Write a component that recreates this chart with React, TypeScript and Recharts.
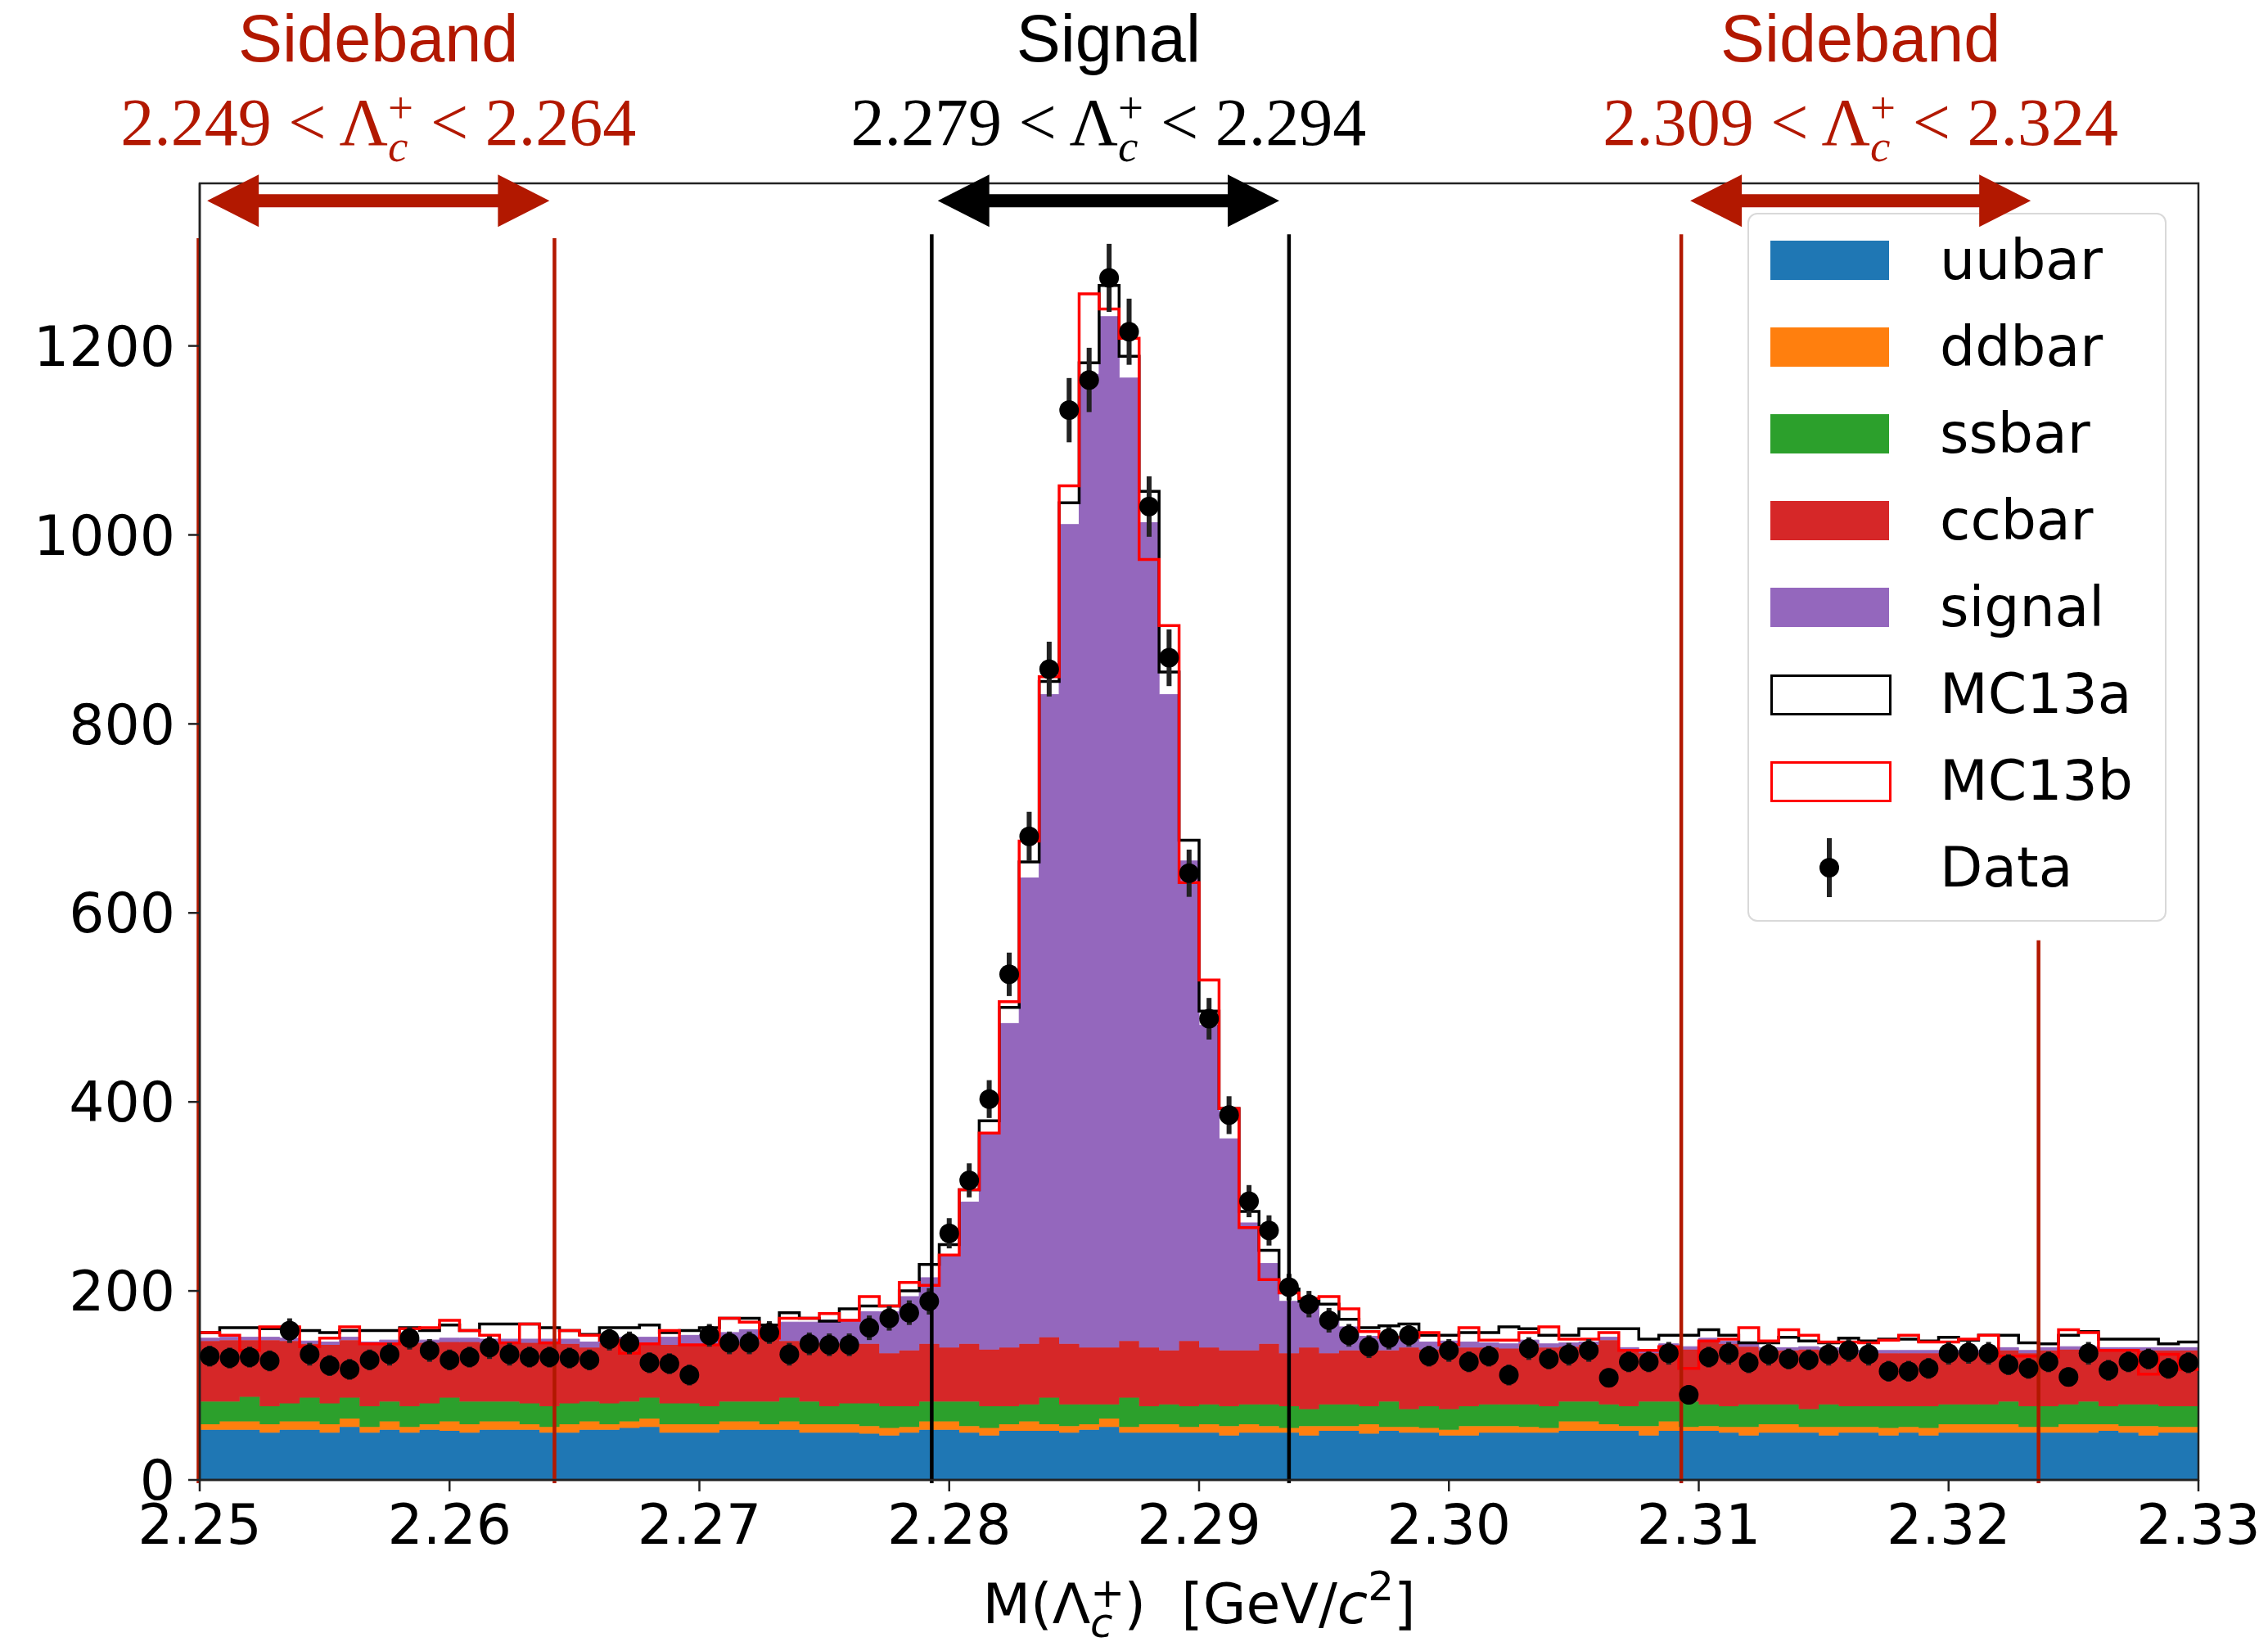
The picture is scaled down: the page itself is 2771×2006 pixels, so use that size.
import React from 'react'
import {
  ComposedChart,
  Area,
  Line,
  Scatter,
  ErrorBar,
  XAxis,
  YAxis,
  ReferenceLine,
  ReferenceArea,
} from 'recharts'

// binning of the M(Lambda_c+) histogram
const BIN_LO = 2.25
const BIN_HI = 2.33
const BIN_W = 0.0008

// stacked MC components, events per bin (100 bins)
const uubar = [
  53, 53, 53, 50, 53, 53, 50, 56, 50, 53, 50, 53, 52, 50, 53, 53, 53, 50, 50, 53,
  53, 55, 56, 50, 50, 50, 53, 53, 53, 53, 50, 50, 50, 49, 47, 50, 53, 53, 50, 47,
  52, 52, 52, 50, 53, 56, 50, 50, 50, 50, 50, 47, 50, 50, 50, 47, 52, 52, 49, 52,
  50, 50, 47, 47, 50, 50, 50, 50, 52, 52, 52, 52, 47, 52, 52, 52, 50, 47, 50, 50,
  50, 47, 50, 50, 47, 50, 47, 50, 50, 50, 50, 50, 50, 50, 50, 52, 50, 47, 50, 50,
]
const ddbar = [
  6, 9, 9, 9, 9, 9, 9, 9, 6, 9, 6, 6, 10, 9, 9, 9, 6, 6, 9, 9,
  6, 7, 9, 9, 9, 9, 9, 9, 6, 9, 9, 9, 9, 8, 8, 6, 9, 9, 7, 8,
  7, 10, 7, 7, 6, 9, 6, 9, 9, 6, 9, 10, 9, 7, 5, 10, 5, 5, 10, 4,
  6, 5, 6, 10, 7, 7, 6, 5, 10, 10, 7, 5, 10, 10, 4, 5, 6, 9, 9, 9,
  6, 9, 6, 6, 8, 6, 8, 9, 9, 9, 9, 6, 6, 9, 9, 7, 7, 10, 6, 6,
]
const ssbar = [
  24, 21, 26, 19, 19, 25, 22, 22, 22, 21, 22, 22, 25, 24, 21, 21, 22, 22, 22, 21,
  22, 21, 22, 22, 22, 19, 21, 21, 24, 25, 24, 19, 22, 24, 23, 22, 21, 21, 26, 23,
  19, 18, 28, 23, 21, 15, 31, 19, 21, 22, 21, 21, 21, 23, 23, 18, 23, 23, 19, 27,
  19, 23, 22, 21, 23, 23, 24, 23, 21, 21, 21, 21, 26, 21, 27, 23, 22, 24, 21, 21,
  19, 24, 22, 22, 23, 22, 23, 21, 21, 21, 24, 22, 22, 21, 24, 19, 23, 23, 22, 22,
]
const ccbar = [
  64, 65, 60, 70, 66, 57, 62, 61, 65, 62, 67, 64, 59, 63, 62, 62, 64, 66, 63, 57,
  64, 62, 57, 62, 63, 66, 61, 62, 69, 60, 62, 67, 63, 63, 56, 59, 61, 57, 61, 60,
  62, 64, 64, 64, 60, 60, 60, 62, 57, 69, 60, 59, 57, 64, 56, 65, 54, 57, 59, 54,
  65, 60, 65, 62, 60, 59, 64, 62, 58, 60, 68, 59, 51, 58, 55, 67, 66, 61, 57, 57,
  63, 57, 56, 56, 56, 56, 56, 54, 54, 54, 54, 56, 59, 58, 55, 59, 57, 57, 59, 59,
]
const signal = [
  3, 3, 3, 3, 3, 3, 3, 3, 3, 3, 3, 3, 4, 4, 4, 4, 4, 5, 5, 6,
  6, 6, 7, 8, 9, 10, 12, 14, 12, 20, 22, 24, 26, 34, 44, 57, 70, 98, 150, 229,
  343, 493, 680, 867, 1030, 1091, 1019, 873, 694, 508, 341, 224, 135, 85, 55, 45, 36, 25, 15, 12,
  10, 8, 7, 6, 5, 5, 4, 4, 4, 3, 3, 3, 3, 3, 3, 3, 3, 3, 3, 3,
  3, 3, 3, 3, 3, 3, 3, 3, 3, 3, 3, 3, 3, 3, 3, 3, 3, 3, 3, 3,
]

// MC totals drawn as step outlines
const mc13a = [
  156, 161, 161, 160, 160, 158, 156, 158, 158, 158, 161, 158, 164, 158, 165, 165, 165, 161, 158, 154,
  161, 161, 164, 156, 158, 161, 171, 171, 164, 177, 171, 168, 181, 184, 184, 200, 228, 249, 307, 380,
  500, 654, 845, 1034, 1182, 1264, 1189, 1046, 855, 677, 496, 393, 284, 243, 202, 189, 186, 170, 161, 163,
  165, 153, 153, 156, 156, 162, 160, 153, 153, 160, 160, 160, 149, 153, 153, 159, 153, 145, 145, 151,
  147, 145, 150, 147, 149, 149, 147, 151, 148, 153, 153, 145, 144, 153, 157, 149, 149, 149, 144, 146,
]
const mc13b = [
  156, 153, 137, 162, 162, 141, 150, 162, 144, 144, 160, 161, 169, 158, 153, 145, 165, 145, 158, 153,
  148, 134, 144, 158, 143, 143, 171, 167, 150, 171, 171, 176, 169, 194, 184, 209, 206, 238, 307, 367,
  506, 676, 850, 1052, 1255, 1239, 1208, 974, 904, 632, 529, 393, 267, 212, 198, 192, 194, 181, 157, 151,
  151, 156, 143, 161, 148, 148, 156, 162, 149, 149, 156, 137, 137, 141, 118, 147, 149, 161, 147, 159,
  153, 146, 146, 145, 148, 153, 146, 146, 149, 153, 131, 131, 130, 159, 156, 137, 137, 112, 133, 117,
]

// data points and their error bars
const dataCounts = [
  131, 129, 130, 126, 158, 133, 121, 117, 127, 133, 150, 137, 127, 130, 140, 133, 130, 130, 129, 127,
  149, 145, 124, 123, 111, 153, 145, 145, 156, 133, 144, 143, 143, 161, 171, 177, 189, 261, 317, 403,
  535, 681, 858, 1132, 1164, 1272, 1215, 1030, 870, 642, 488, 386, 295, 264, 204, 186, 169, 153, 141, 150,
  153, 131, 137, 125, 131, 111, 139, 128, 133, 137, 108, 125, 125, 134, 90, 130, 134, 124, 133, 128,
  127, 133, 137, 133, 115, 115, 118, 134, 135, 134, 122, 118, 125, 109, 134, 116, 125, 128, 118, 124,
]
const dataErr = [
  11, 11, 11, 11, 13, 12, 11, 11, 11, 12, 12, 12, 11, 11, 12, 12, 11, 11, 11, 11,
  12, 12, 11, 11, 11, 12, 12, 12, 12, 12, 12, 12, 12, 13, 13, 13, 14, 16, 18, 20,
  23, 26, 29, 34, 34, 36, 35, 32, 30, 25, 22, 20, 17, 16, 14, 14, 13, 12, 12, 12,
  12, 11, 12, 11, 11, 11, 12, 11, 12, 12, 10, 11, 11, 12, 10, 11, 12, 11, 12, 11,
  11, 12, 12, 12, 11, 11, 11, 12, 12, 12, 11, 11, 11, 10, 12, 11, 11, 11, 11, 11,
]

const xTicks = [2.25, 2.26, 2.27, 2.28, 2.29, 2.3, 2.31, 2.32, 2.33]
const yTicks = [0, 200, 400, 600, 800, 1000, 1200]
const Y_MAX = 1372

const stackKeys = ['uubar', 'ddbar', 'ssbar', 'ccbar', 'signal']
const stackColors = ['#1f77b4', '#ff7f0e', '#2ca02c', '#d62728', '#9467bd']
const stackValues = [uubar, ddbar, ssbar, ccbar, signal]

// mass windows (annotation)
const DARK_RED = '#b21800'
const bandTitles = ['Sideband', 'Signal', 'Sideband']
const bandLimits = [['2.249', '2.264'], ['2.279', '2.294'], ['2.309', '2.324']]
const bandColors = [DARK_RED, '#000', DARK_RED]
const bandLines = [[2.24995, 2.2642], [2.2793, 2.2936], [2.3093, 2.3236]]
const bandLineTops = [[1314, 1314], [1318, 1318], [1318, 571]]
const bandArrows = [[2.2503, 2.264], [2.27954, 2.29321], [2.30966, 2.32329]]
const ARROW_Y = 1353.6

const legendNames = ['uubar', 'ddbar', 'ssbar', 'ccbar', 'signal', 'MC13a', 'MC13b', 'Data']

const histRows = Array.from({ length: uubar.length + 1 }, (_, i) => {
  const k = Math.min(i, uubar.length - 1)
  const row: Record<string, number> = {
    x: i === uubar.length ? BIN_HI : BIN_LO + i * BIN_W,
    mc13a: mc13a[k],
    mc13b: mc13b[k],
  }
  stackKeys.forEach((key, j) => {
    row[key] = stackValues[j][k]
  })
  return row
})

const dataRows = dataCounts.map((v, i) => ({
  x: BIN_LO + (i + 0.5) * BIN_W,
  y: v,
  err: dataErr[i],
}))

const tickFont = { fontSize: 68, fill: '#000', fontFamily: "'DejaVu Sans', sans-serif" }

function DataDot(props: any) {
  const { cx, cy } = props
  if (cx == null || cy == null) return null
  return <circle cx={cx} cy={cy} r={12} fill="#000" />
}

function BandArrow(props: any) {
  const { x1, y1, x2, band } = props
  const color = bandColors[band]
  const head = 63
  const hh = 32
  const bh = 8
  const y = y1
  const pts = [
    [x1, y], [x1 + head, y - hh], [x1 + head, y - bh], [x2 - head, y - bh], [x2 - head, y - hh],
    [x2, y], [x2 - head, y + hh], [x2 - head, y + bh], [x1 + head, y + bh], [x1 + head, y + hh],
  ]
    .map((p) => p.join(','))
    .join(' ')
  const cx = (x1 + x2) / 2
  return (
    <g>
      <polygon points={pts} fill={color} />
      <text
        x={cx}
        y={y - 170}
        textAnchor="middle"
        fontFamily="'Liberation Sans', Arial, sans-serif"
        fontSize={81}
        fill={color}
      >
        {bandTitles[band]}
      </text>
      <text
        x={cx}
        y={y - 68}
        textAnchor="middle"
        fontFamily="'Liberation Serif', 'Times New Roman', serif"
        fontSize={82}
        fill={color}
        style={{ whiteSpace: 'pre' }}
      >
        {`${bandLimits[band][0]} < Λ`}
        <tspan dy={-27} fontSize={55}>+</tspan>
        <tspan dx={-31} dy={47} fontSize={55} fontStyle="italic">c</tspan>
        <tspan dx={7} dy={-20}>{` < ${bandLimits[band][1]}`}</tspan>
      </text>
    </g>
  )
}

function MassLabel(props: any) {
  const { viewBox } = props
  if (!viewBox) return null
  const cx = viewBox.x + viewBox.width / 2
  const y = viewBox.y + 175
  return (
    <text
      x={cx}
      y={y}
      textAnchor="middle"
      fontFamily="'DejaVu Sans', sans-serif"
      fontSize={68}
      fill="#000"
      style={{ whiteSpace: 'pre' }}
    >
      M(Λ
      <tspan dy={-20} fontSize={50}>+</tspan>
      <tspan dx={-42} dy={37} fontSize={50} fontStyle="italic">c</tspan>
      <tspan dx={14} dy={-17}>)  [GeV/</tspan>
      <tspan fontStyle="italic">c</tspan>
      <tspan dy={-28} fontSize={50}>2</tspan>
      <tspan dy={28}>]</tspan>
    </text>
  )
}

function KeyBox() {
  return (
    <div
      style={{
        position: 'absolute',
        left: 2135,
        top: 260,
        width: 512,
        height: 866,
        boxSizing: 'border-box',
        border: '2.5px solid #d9d9d9',
        borderRadius: 12,
        background: '#fff',
        fontFamily: "'DejaVu Sans', sans-serif",
        fontSize: 68,
        color: '#000',
      }}
    >
      {legendNames.map((name, i) => {
        const top = 56 + 106 * i - 50
        let swatch: React.ReactNode
        if (i < stackColors.length) {
          swatch = <div style={{ position: 'absolute', left: 26, top: 26, width: 145, height: 48, background: stackColors[i] }} />
        } else if (name === 'Data') {
          swatch = (
            <svg style={{ position: 'absolute', left: 26, top: 0 }} width={145} height={100}>
              <line x1={72} x2={72} y1={14} y2={86} stroke="#222" strokeWidth={6} />
              <circle cx={72} cy={50} r={12} fill="#000" />
            </svg>
          )
        } else {
          swatch = (
            <div
              style={{
                position: 'absolute',
                left: 26,
                top: 26,
                width: 148,
                height: 50,
                boxSizing: 'border-box',
                border: `3.5px solid ${name === 'MC13a' ? '#000' : '#ff0000'}`,
                background: '#fff',
              }}
            />
          )
        }
        return (
          <div key={name} style={{ position: 'absolute', left: 0, top, width: '100%', height: 100 }}>
            {swatch}
            <span style={{ position: 'absolute', left: 233, top: 0, lineHeight: '100px', whiteSpace: 'nowrap' }}>{name}</span>
          </div>
        )
      })}
    </div>
  )
}

export default function App() {
  return (
    <div style={{ position: 'absolute', left: 0, top: 0, width: 2771, height: 2006, background: '#fff' }}>
      <KeyBox />
      <div style={{ position: 'absolute', left: 0, top: 0 }}>
        <ComposedChart
          width={2771}
          height={2006}
          data={histRows}
          margin={{ top: 224, right: 85, bottom: 0, left: 14 }}
        >
          <XAxis
            type="number"
            dataKey="x"
            domain={[BIN_LO, BIN_HI]}
            ticks={xTicks}
            allowDataOverflow
            tickFormatter={(v: number) => v.toFixed(2)}
            height={198}
            tickSize={14}
            tickMargin={16}
            tick={tickFont}
            axisLine={{ stroke: '#222', strokeWidth: 2.5 }}
            tickLine={{ stroke: '#222', strokeWidth: 2.5 }}
            label={<MassLabel />}
          />
          <YAxis
            type="number"
            domain={[0, Y_MAX]}
            ticks={yTicks}
            allowDataOverflow
            width={230}
            tickSize={14}
            tickMargin={16}
            tick={tickFont}
            axisLine={{ stroke: '#222', strokeWidth: 2.5 }}
            tickLine={{ stroke: '#222', strokeWidth: 2.5 }}
          />
          {stackKeys.map((key, j) => (
            <Area
              key={key}
              type="stepAfter"
              dataKey={key}
              stackId="mc"
              fill={stackColors[j]}
              fillOpacity={1}
              stroke={stackColors[j]}
              strokeWidth={1}
              dot={false}
              activeDot={false}
              isAnimationActive={false}
            />
          ))}
          <Line
            type="stepAfter"
            dataKey="mc13a"
            stroke="#000"
            strokeWidth={3.5}
            dot={false}
            activeDot={false}
            isAnimationActive={false}
          />
          <Line
            type="stepAfter"
            dataKey="mc13b"
            stroke="#ff0000"
            strokeWidth={3.5}
            dot={false}
            activeDot={false}
            isAnimationActive={false}
          />
          <Scatter data={dataRows} dataKey="y" fill="#000" shape={DataDot} isAnimationActive={false}>
            <ErrorBar dataKey="err" direction="y" width={0} stroke="#222" strokeWidth={6} />
          </Scatter>
          <ReferenceArea
            x1={BIN_LO}
            x2={BIN_HI}
            y1={0}
            y2={Y_MAX}
            fill="none"
            stroke="#222"
            strokeWidth={2.5}
            ifOverflow="visible"
          />
          {bandLines.map((pair, b) =>
            pair.map((xv, k) => (
              <ReferenceLine
                key={`line-${b}-${k}`}
                segment={[{ x: xv, y: -3.5 }, { x: xv, y: bandLineTops[b][k] }]}
                stroke={bandColors[b]}
                strokeWidth={4.5}
                ifOverflow="visible"
              />
            ))
          )}
          {bandArrows.map((pair, b) => (
            <ReferenceLine
              key={`arrow-${b}`}
              segment={[{ x: pair[0], y: ARROW_Y }, { x: pair[1], y: ARROW_Y }]}
              ifOverflow="visible"
              shape={(p: any) => <BandArrow {...p} band={b} />}
            />
          ))}
        </ComposedChart>
      </div>
    </div>
  )
}
